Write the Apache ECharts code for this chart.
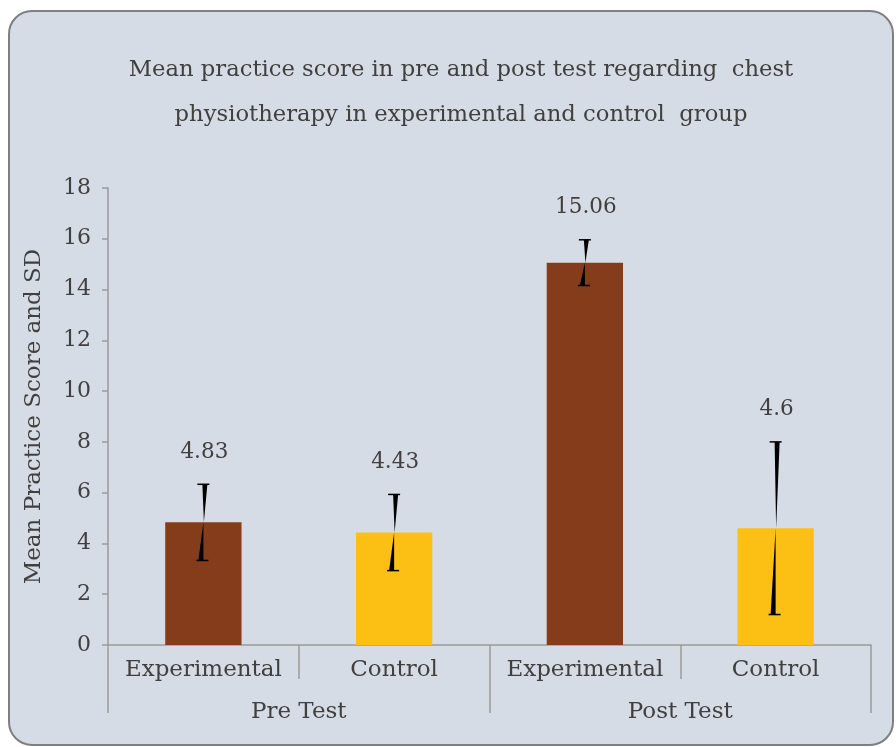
<!DOCTYPE html>
<html>
<head>
<meta charset="utf-8">
<script src="https://cdn.jsdelivr.net/npm/echarts@6/dist/echarts.min.js"></script>
<style>
  html, body { margin: 0; padding: 0; background: #ffffff; }
  #box {
    position: absolute; left: 8px; top: 10px; width: 882px; height: 732px;
    background: #d6dce5; border: 2px solid #7f7f7f; border-radius: 24px;
  }
  #main { position: absolute; left: 0; top: 0; width: 896px; height: 747px; }
</style>
</head>
<body>
<div id="box"></div>
<div id="main"></div>
<script>
// data
var categories = ['Experimental', 'Control', 'Experimental', 'Control'];
var groups = ['Pre Test', 'Post Test'];
var means = [4.83, 4.43, 15.06, 4.6];
var sds = [1.5, 1.5, 0.9, 3.4];
var yTicks = { min: 0, max: 18, step: 2 };

var titleLines = [
  'Mean practice score in pre and post test regarding  chest',
  'physiotherapy in experimental and control  group'
];
var barColors = ['#843c1b', '#fcbf13', '#843c1b', '#fcbf13'];
var textColor = '#404040';
var font = '"DejaVu Serif", "Liberation Serif", serif';

var myChart = echarts.init(document.getElementById('main'), null, { renderer: 'canvas' });

// error bars: two tapered wedges meeting at the mean, plus caps
function renderErr(params, api) {
  var idx = api.value(0);
  var m = api.value(1);
  var sd = api.value(2);
  var top = api.coord([idx, m + sd]);
  var mid = api.coord([idx, m]);
  var bot = api.coord([idx, m - sd]);
  var x = mid[0] - 1;
  return {
    type: 'group',
    children: [
      { type: 'polygon', shape: { points: [[x, top[1]], [x + 5, top[1]], [x + 1.5, mid[1]]] }, style: { fill: '#000' } },
      { type: 'polygon', shape: { points: [[x - 4, bot[1]], [x + 1, bot[1]], [x + 1, mid[1]]] }, style: { fill: '#000' } },
      { type: 'line', shape: { x1: x - 5, y1: top[1], x2: x + 7, y2: top[1] }, style: { stroke: '#000', lineWidth: 1.5 } },
      { type: 'line', shape: { x1: x - 6, y1: bot[1], x2: x + 6, y2: bot[1] }, style: { stroke: '#000', lineWidth: 1.5 } },
      { type: 'text', x: mid[0] + 1, y: top[1] - 32, style: {
          text: String(m), fill: textColor, fontSize: 21.5, fontFamily: font,
          align: 'center', verticalAlign: 'middle' } }
    ]
  };
}

var option = {
  animation: false,
  backgroundColor: 'transparent',
  graphic: titleLines.map(function (t, i) {
    return {
      type: 'text', x: 461, y: 70 + i * 45,
      style: { text: t, fill: textColor, fontSize: 22.7, fontFamily: font, align: 'center', verticalAlign: 'middle' }
    };
  }),
  grid: [
    { left: 108, right: 25, top: 188, bottom: 102 },
    { left: 108, right: 25, top: 188, bottom: 102 }
  ],
  xAxis: [{
    type: 'category',
    gridIndex: 0,
    data: categories,
    axisLine: { show: true, lineStyle: { color: '#9a9a9a', width: 1.5 } },
    axisTick: { show: true, length: 34, interval: 0, lineStyle: { color: '#9a9a9a', width: 1.5 } },
    axisLabel: { interval: 0, fontSize: 23, color: textColor, fontFamily: font, margin: 14 }
  }, {
    type: 'category',
    gridIndex: 1,
    data: groups,
    axisLine: { show: false },
    axisTick: { show: true, length: 68, lineStyle: { color: '#9a9a9a', width: 1.5 } },
    axisLabel: { fontSize: 23, color: textColor, fontFamily: font, margin: 56 }
  }],
  yAxis: [{
    type: 'value',
    gridIndex: 0,
    min: yTicks.min,
    max: yTicks.max,
    interval: yTicks.step,
    name: 'Mean Practice Score and SD',
    nameLocation: 'middle',
    nameGap: 62,
    nameTextStyle: { fontSize: 23, color: textColor, fontFamily: font },
    axisLine: { show: true, lineStyle: { color: '#9a9a9a', width: 1.5 } },
    axisTick: { show: true, length: 6, lineStyle: { color: '#9a9a9a', width: 1.5 } },
    splitLine: { show: false },
    axisLabel: { fontSize: 22, color: textColor, fontFamily: font, margin: 17 }
  }, {
    type: 'value', gridIndex: 1, show: false, min: 0, max: 18
  }],
  series: [{
    type: 'bar',
    xAxisIndex: 0,
    yAxisIndex: 0,
    barWidth: '40%',
    data: means.map(function (v, i) {
      return { value: v, itemStyle: { color: barColors[i] } };
    })
  }, {
    type: 'custom',
    xAxisIndex: 0,
    yAxisIndex: 0,
    renderItem: renderErr,
    data: means.map(function (v, i) { return [i, v, sds[i]]; }),
    z: 10
  }]
};

myChart.setOption(option);
</script>
</body>
</html>
